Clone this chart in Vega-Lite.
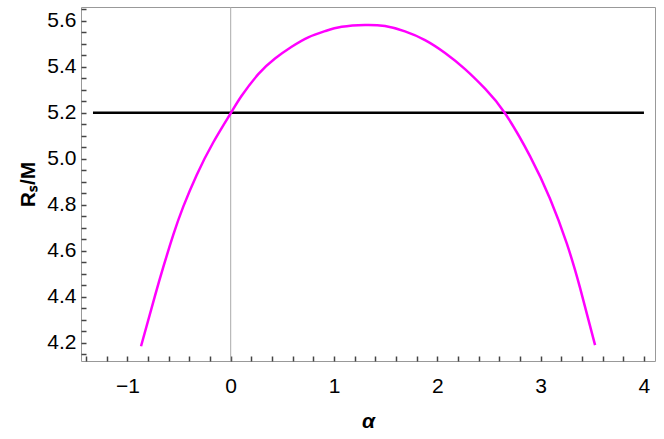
{
  "$schema": "https://vega.github.io/schema/vega-lite/v6.json",
  "width": 574,
  "height": 354,
  "autosize": {"type": "none"},
  "padding": {"left": 81, "top": 7, "right": 9, "bottom": 78},
  "background": "white",
  "config": {"view": {"stroke": "#999999", "strokeWidth": 1}, "font": "Liberation Sans"},
  "datasets": {
    "curve": [
      {"alpha": -0.868, "R": 4.185},
      {"alpha": -0.733, "R": 4.404},
      {"alpha": -0.652, "R": 4.53},
      {"alpha": -0.556, "R": 4.669},
      {"alpha": -0.459, "R": 4.792},
      {"alpha": -0.329, "R": 4.93},
      {"alpha": -0.168, "R": 5.072},
      {"alpha": 0.0, "R": 5.198},
      {"alpha": 0.106, "R": 5.274},
      {"alpha": 0.267, "R": 5.368},
      {"alpha": 0.429, "R": 5.436},
      {"alpha": 0.59, "R": 5.487},
      {"alpha": 0.751, "R": 5.528},
      {"alpha": 0.913, "R": 5.555},
      {"alpha": 1.074, "R": 5.574},
      {"alpha": 1.3, "R": 5.582},
      {"alpha": 1.494, "R": 5.577},
      {"alpha": 1.687, "R": 5.554},
      {"alpha": 1.881, "R": 5.516},
      {"alpha": 2.075, "R": 5.46},
      {"alpha": 2.268, "R": 5.39},
      {"alpha": 2.462, "R": 5.305},
      {"alpha": 2.655, "R": 5.198},
      {"alpha": 2.897, "R": 5.012},
      {"alpha": 3.091, "R": 4.826},
      {"alpha": 3.253, "R": 4.632},
      {"alpha": 3.381, "R": 4.44},
      {"alpha": 3.527, "R": 4.19}
    ],
    "hline": [
      {"alpha": -1.333, "R": 5.2},
      {"alpha": 4.0, "R": 5.2}
    ],
    "vline": [
      {"alpha": 0}
    ]
  },
  "encoding": {
    "x": {
      "field": "alpha", "type": "quantitative",
      "scale": {"domain": [-1.449, 4.107], "nice": false, "zero": false},
      "axis": {
        "orient": "bottom", "title": "α", "grid": false, "domain": false,
        "titleFont": "Liberation Sans", "titleFontSize": 21, "titleFontWeight": "bold", "titleFontStyle": "italic", "titleColor": "black", "titlePadding": 14,
        "values": [-1.4,-1.2,-1.0,-0.8,-0.6,-0.4,-0.2,0,0.2,0.4,0.6,0.8,1.0,1.2,1.4,1.6,1.8,2.0,2.2,2.4,2.6,2.8,3.0,3.2,3.4,3.6,3.8,4.0],
        "labelExpr": "abs(datum.value - round(datum.value)) < 0.001 ? replace(format(datum.value, 'd'), '-', '−') : ''",
        "labelFont": "Liberation Sans", "labelFontSize": 21, "labelColor": "black", "labelPadding": 19,
        "labelOverlap": false,
        "tickColor": "#444444", "tickWidth": 1.5, "tickSize": -5
      }
    }
  },
  "layer": [
    {
      "data": {"name": "vline"},
      "mark": {"type": "rule", "color": "#aaaaaa", "strokeWidth": 1}
    },
    {
      "data": {"name": "hline"},
      "mark": {"type": "line", "color": "black", "strokeWidth": 2.5},
      "encoding": {
        "y": {
          "field": "R", "type": "quantitative",
          "scale": {"domain": [4.121, 5.66], "nice": false, "zero": false},
          "axis": {
            "orient": "left", "title": "Rₛ/M", "grid": false, "domain": false,
            "titleFont": "Liberation Sans", "titleFontSize": 21, "titleFontWeight": "bold", "titleColor": "black", "titlePadding": 8,
            "values": [4.15,4.2,4.25,4.3,4.35,4.4,4.45,4.5,4.55,4.6,4.65,4.7,4.75,4.8,4.85,4.9,4.95,5.0,5.05,5.1,5.15,5.2,5.25,5.3,5.35,5.4,5.45,5.5,5.55,5.6,5.65],
            "labelExpr": "abs(datum.value * 5 - round(datum.value * 5)) < 0.001 ? format(datum.value, '.1f') : ''",
            "labelFont": "Liberation Sans", "labelFontSize": 21, "labelColor": "black", "labelPadding": 10,
            "labelOverlap": false,
            "tickColor": "#444444", "tickWidth": 1.5, "tickSize": -5
          }
        }
      }
    },
    {
      "data": {"name": "curve"},
      "mark": {"type": "line", "color": "#ff00ff", "strokeWidth": 2.5, "interpolate": "natural"},
      "encoding": {
        "y": {
          "field": "R", "type": "quantitative",
          "scale": {"domain": [4.121, 5.66], "nice": false, "zero": false},
          "axis": {
            "orient": "left", "title": "Rₛ/M", "grid": false, "domain": false,
            "titleFont": "Liberation Sans", "titleFontSize": 21, "titleFontWeight": "bold", "titleColor": "black", "titlePadding": 8,
            "values": [4.15,4.2,4.25,4.3,4.35,4.4,4.45,4.5,4.55,4.6,4.65,4.7,4.75,4.8,4.85,4.9,4.95,5.0,5.05,5.1,5.15,5.2,5.25,5.3,5.35,5.4,5.45,5.5,5.55,5.6,5.65],
            "labelExpr": "abs(datum.value * 5 - round(datum.value * 5)) < 0.001 ? format(datum.value, '.1f') : ''",
            "labelFont": "Liberation Sans", "labelFontSize": 21, "labelColor": "black", "labelPadding": 10,
            "labelOverlap": false,
            "tickColor": "#444444", "tickWidth": 1.5, "tickSize": -5
          }
        }
      }
    }
  ]
}
